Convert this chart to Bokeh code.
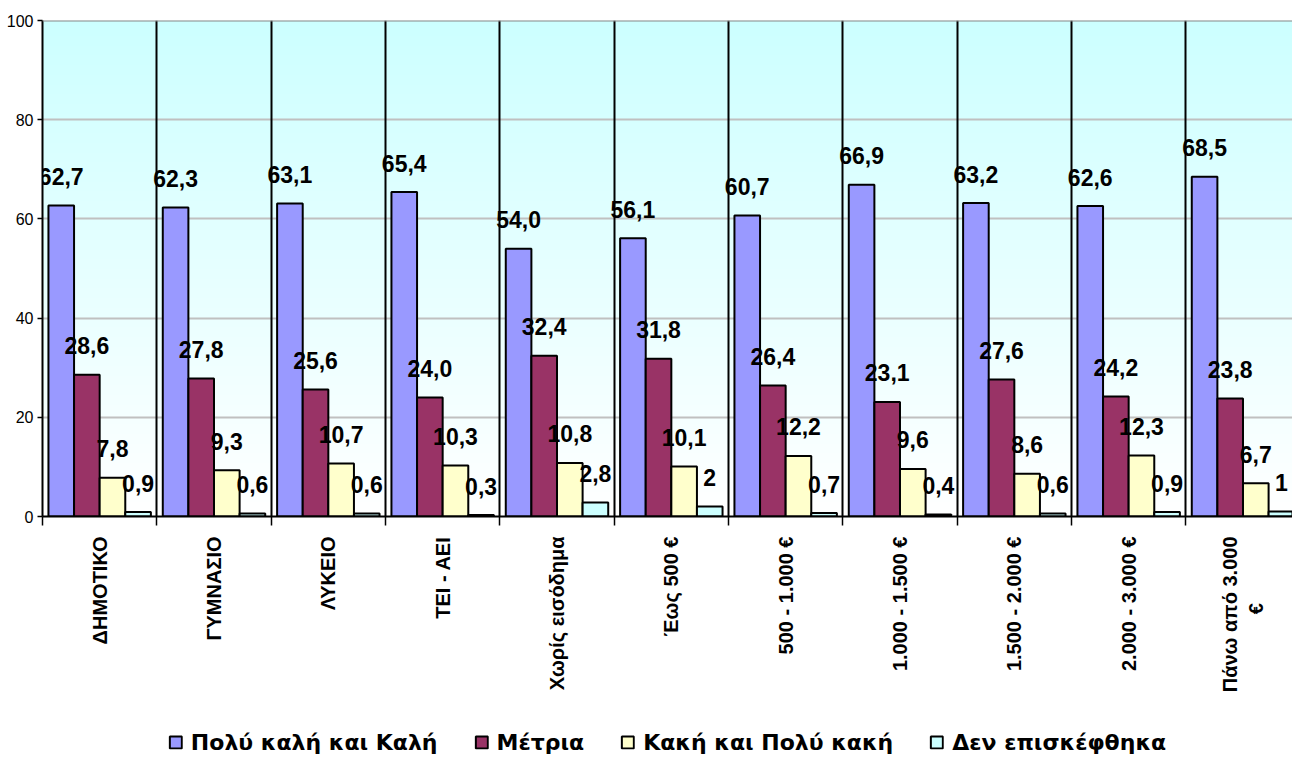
import numpy as np
from bokeh.plotting import figure
from bokeh.layouts import column
from bokeh.models import (Range1d, FixedTicker, LinearAxis, Legend, LegendItem, Span,
                          ColumnDataSource, Grid)
from bokeh.embed import file_html
from bokeh.resources import INLINE
from bokeh.core.properties import value

# ---------------- data ----------------
categories = ["ΔΗΜΟΤΙΚΟ", "ΓΥΜΝΑΣΙΟ", "ΛΥΚΕΙΟ", "ΤΕΙ - ΑΕΙ", "Χωρίς εισόδημα",
              "Έως 500 €", "500 - 1.000 €", "1.000 - 1.500 €", "1.500 - 2.000 €",
              "2.000 - 3.000 €", "Πάνω από 3.000\n€" + "\u00a0" * 12]
series_names = ["Πολύ καλή και Καλή", "Μέτρια", "Κακή και Πολύ κακή", "Δεν επισκέφθηκα"]
very_good = [62.7, 62.3, 63.1, 65.4, 54.0, 56.1, 60.7, 66.9, 63.2, 62.6, 68.5]
average = [28.6, 27.8, 25.6, 24.0, 32.4, 31.8, 26.4, 23.1, 27.6, 24.2, 23.8]
bad = [7.8, 9.3, 10.7, 10.3, 10.8, 10.1, 12.2, 9.6, 8.6, 12.3, 6.7]
not_visited = [0.9, 0.6, 0.6, 0.3, 2.8, 2, 0.7, 0.4, 0.6, 0.9, 1]
y_ticks = [0, 20, 40, 60, 80, 100]

series = [very_good, average, bad, not_visited]
colors = ["#9999FF", "#993366", "#FFFFCC", "#CCFFFF"]

FONT_NAME = "Liberation Sans"
FONT = value(FONT_NAME)
LEGEND_FONT = "DejaVu Sans"

n = len(categories)
centers = [i + 0.5 for i in range(n)]
bounds = list(range(n + 1))
bar_w = 0.224
offsets = [-1.5 * bar_w, -0.5 * bar_w, 0.5 * bar_w, 1.5 * bar_w]

p = figure(width=1292, height=726,
           x_range=Range1d(0, 10.933), y_range=Range1d(0, 100),
           output_backend="svg", toolbar_location=None,
           x_axis_type=None, y_axis_type=None,
           min_border_left=42, min_border_right=0, min_border_top=20, min_border_bottom=210,
           outline_line_color=None, border_fill_color="white", background_fill_color="white")

# gradient background of the plot area
N = 496
t = np.linspace(0.0, 1.0, N)
img = np.empty((N, 1), dtype=np.uint32)
view = img.view(dtype=np.uint8).reshape((N, 1, 4))
view[:, 0, 0] = np.round(255 - 51 * t).astype(np.uint8)
view[:, 0, 1] = 255
view[:, 0, 2] = 255
view[:, 0, 3] = 255
p.image_rgba(image=[img], x=0, y=0, dw=n, dh=100, level="image")

# grids
p.add_layout(Grid(dimension=1, ticker=FixedTicker(ticks=y_ticks),
                  grid_line_color="#C0C0C0", grid_line_width=2))
p.add_layout(Grid(dimension=0, ticker=FixedTicker(ticks=bounds),
                  grid_line_color="black", grid_line_width=2))
p.add_layout(Span(location=100, dimension="width", line_color="#888888", line_width=2))

# axes
yaxis = LinearAxis(ticker=FixedTicker(ticks=y_ticks),
                   major_tick_out=5, major_tick_in=0, minor_tick_out=0, minor_tick_in=0,
                   axis_line_width=2, axis_line_color="black",
                   major_tick_line_width=1.5, major_tick_line_color="black",
                   major_label_text_font=FONT_NAME, major_label_text_font_size="16px",
                   major_label_text_color="black", major_label_standoff=4)
p.add_layout(yaxis, "left")

xaxis = LinearAxis(ticker=FixedTicker(ticks=centers, minor_ticks=bounds),
                   major_label_overrides={c: lab for c, lab in zip(centers, categories)},
                   major_label_orientation=np.pi / 2,
                   major_tick_out=9, major_tick_in=0, major_tick_line_color=None,
                   minor_tick_out=9, minor_tick_in=0, minor_tick_line_color="black",
                   minor_tick_line_width=1.5,
                   axis_line_width=2, axis_line_color="black",
                   major_label_text_font=FONT_NAME, major_label_text_font_size="20px",
                   major_label_text_font_style="bold", major_label_text_color="black",
                   major_label_standoff=11)
p.add_layout(xaxis, "below")

# bars + labels
renderers = []
sources = []
for vals, col, off in zip(series, colors, offsets):
    src = ColumnDataSource(dict(
        x=[c + off for c in centers],
        top=vals,
        label=[str(v).replace(".", ",") for v in vals],
    ))
    sources.append(src)
    r = p.vbar(x="x", top="top", width=bar_w, source=src,
               fill_color=col, line_color="black", line_width=2)
    renderers.append(r)
    p.text(x="x", y="top", text="label", source=src,
           text_align="center", text_baseline="alphabetic", y_offset=-29,
           text_font=FONT, text_font_style="bold", text_font_size="23px",
           text_color="black")

# legend strip below the chart (hidden copies of the series give the legend its swatches)
pl = figure(width=1292, height=31, x_range=Range1d(0, 1), y_range=Range1d(0, 1),
            output_backend="svg", toolbar_location=None,
            x_axis_type=None, y_axis_type=None,
            min_border_left=42, min_border_right=0, min_border_top=0, min_border_bottom=0,
            outline_line_color=None, border_fill_color="white", background_fill_color="white")
leg_renderers = []
for src, col in zip(sources, colors):
    leg_renderers.append(pl.vbar(x="x", top="top", width=bar_w, source=src, fill_color=col,
                                 line_color="black", line_width=2, visible=False))
legend = Legend(items=[LegendItem(label=nm, renderers=[r]) for nm, r in zip(series_names, leg_renderers)],
                orientation="horizontal", location="center",
                padding=0, margin=0, spacing=36, label_standoff=8,
                glyph_width=15, glyph_height=15,
                border_line_color=None, background_fill_alpha=0,
                inactive_fill_alpha=0,
                label_text_font=LEGEND_FONT, label_text_font_size="22px",
                label_text_font_style="bold", label_text_color="black")
pl.add_layout(legend)

layout = column(p, pl, spacing=0)
open("out.html", "w").write(file_html(layout, INLINE))
